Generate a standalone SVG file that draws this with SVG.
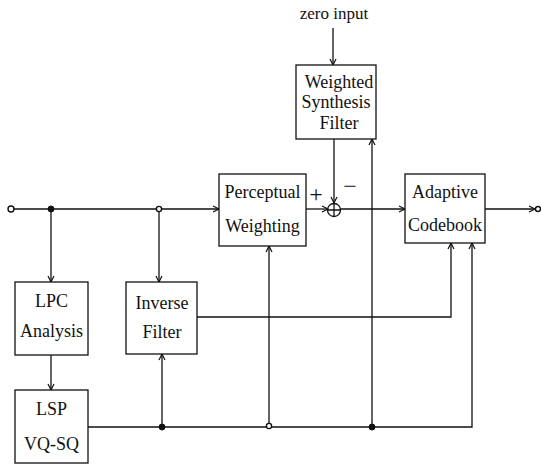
<svg xmlns="http://www.w3.org/2000/svg" width="541" height="464" viewBox="0 0 541 464">
<defs>
<marker id="arr" markerWidth="10" markerHeight="10" refX="8" refY="5" orient="auto" markerUnits="userSpaceOnUse">
<path d="M2,2 L8,5 L2,8" fill="none" stroke="#111" stroke-width="1.2"/>
</marker>
</defs>
<style>
.box{fill:#fff;stroke:#111;stroke-width:1.3}
.ln{fill:none;stroke:#111;stroke-width:1.3}
.t{font-family:"Liberation Serif","Times New Roman",serif;font-size:18px;fill:#111;text-anchor:middle}
.dot{fill:#111;stroke:#111;stroke-width:1}
.odot{fill:#fff;stroke:#111;stroke-width:1.4}
</style>
<rect width="541" height="464" fill="#fff"/>
<g id="connectors">
<path class="ln" d="M14,209 H219" marker-end="url(#arr)"/>
<path class="ln" d="M51,209 V282" marker-end="url(#arr)"/>
<path class="ln" d="M159,209 V282" marker-end="url(#arr)"/>
<path class="ln" d="M51,355 V390" marker-end="url(#arr)"/>
<path class="ln" d="M333,28 V65" marker-end="url(#arr)"/>
<path class="ln" d="M306,209 H328" marker-end="url(#arr)"/>
<path class="ln" d="M334,139 V203" marker-end="url(#arr)"/>
<path class="ln" d="M340,209 H405" marker-end="url(#arr)"/>
<path class="ln" d="M485,209 H535" marker-end="url(#arr)"/>
<path class="ln" d="M88,427 H472 V243" marker-end="url(#arr)"/>
<path class="ln" d="M162,427 V354" marker-end="url(#arr)"/>
<path class="ln" d="M269,427 V246" marker-end="url(#arr)"/>
<path class="ln" d="M372,427 V139" marker-end="url(#arr)"/>
<path class="ln" d="M197,317 H451 V243" marker-end="url(#arr)"/>
<circle class="odot" cx="11" cy="209" r="3"/>
<circle class="odot" cx="538" cy="209" r="2.5"/>
<circle class="dot" cx="51" cy="209" r="3"/>
<circle class="odot" cx="159" cy="209" r="2.6"/>
<circle class="dot" cx="162" cy="427" r="3"/>
<circle class="odot" cx="269" cy="426" r="2.6"/>
<circle class="dot" cx="372" cy="427" r="3"/>
</g>
<g id="sum">
<circle class="ln" cx="334" cy="210" r="6.5" fill="#fff"/>
<path class="ln" d="M327.5,210 H340.5 M334,203.5 V216.5"/>
<text class="t" x="316" y="202" style="font-size:24px">+</text>
<text class="t" x="350" y="194" style="font-size:24px">−</text>
</g>
<g id="zero-input">
<text class="t" x="334" y="19" style="font-size:17px">zero input</text>
</g>
<g id="wsf">
<rect class="box" x="296" y="65" width="80" height="74"/>
<text class="t" x="339" y="88">Weighted</text>
<text class="t" x="336" y="108">Synthesis</text>
<text class="t" x="339" y="129">Filter</text>
</g>
<g id="pw">
<rect class="box" x="219" y="174" width="87" height="72"/>
<text class="t" x="262.5" y="198">Perceptual</text>
<text class="t" x="262.5" y="232">Weighting</text>
</g>
<g id="ac">
<rect class="box" x="405" y="174" width="80" height="69"/>
<text class="t" x="445" y="198">Adaptive</text>
<text class="t" x="445" y="231">Codebook</text>
</g>
<g id="lpc">
<rect class="box" x="15" y="282" width="73" height="73"/>
<text class="t" x="51.5" y="307">LPC</text>
<text class="t" x="51.5" y="337">Analysis</text>
</g>
<g id="inverse">
<rect class="box" x="126" y="282" width="71" height="72"/>
<text class="t" x="162" y="309">Inverse</text>
<text class="t" x="162" y="338">Filter</text>
</g>
<g id="lsp">
<rect class="box" x="15" y="390" width="73" height="73"/>
<text class="t" x="51.5" y="415">LSP</text>
<text class="t" x="51.5" y="450">VQ-SQ</text>
</g>
</svg>
